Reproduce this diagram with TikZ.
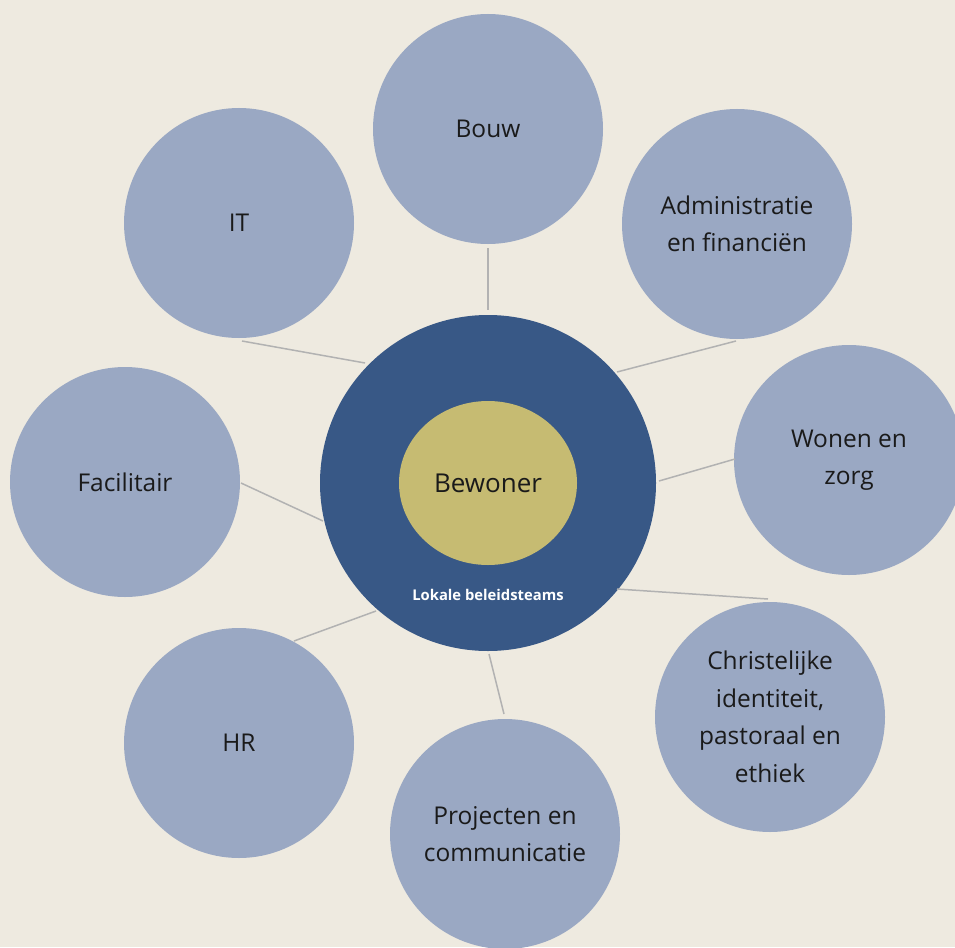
\documentclass[tikz,border=0pt]{standalone}
\usepackage{fontspec}
\usetikzlibrary{shapes.geometric}
\setmainfont{Open Sans}
\definecolor{bg}{HTML}{EEEAE0}
\definecolor{outer}{HTML}{9AA8C3}
\definecolor{core}{HTML}{385886}
\definecolor{yolk}{HTML}{C6BB72}
\definecolor{txt}{HTML}{1A1A1A}
\definecolor{conn}{HTML}{B2B2B2}
\begin{document}
\begin{tikzpicture}[x=1pt,y=-1pt,
  dept/.style={circle,fill=outer,minimum size=230pt,inner sep=0pt,align=center,text=txt,font=\fontsize{24.5}{37.5}\selectfont},
  link/.style={draw=conn,line width=1.5pt}]
\fill[bg] (0,0) rectangle (955,947);
\useasboundingbox (0,0) rectangle (955,947);
\begin{scope}
\clip (0,0) rectangle (955,947);
\node[circle,fill=core,minimum size=336pt,inner sep=0pt] (core) at (488,483) {};
\node[ellipse,fill=yolk,minimum width=178pt,minimum height=164pt,inner sep=0pt,text=txt,font=\fontsize{26}{30}\selectfont] (bew) at (488,483) {Bewoner};
\node[text=white,font=\bfseries\fontsize{14.8}{17}\selectfont] (lok) at (488,595) {Lokale beleidsteams};
\node[dept] (bouw) at (488,129) {Bouw};
\node[dept] (adm) at (737,224) {Administratie\\en financiën};
\node[dept] (won) at (849,460) {Wonen en\\zorg};
\node[dept] (chr) at (770,717) {Christelijke\\identiteit,\\pastoraal en\\ethiek};
\node[dept] (pro) at (505,834) {Projecten en\\communicatie};
\node[dept] (hr) at (239,743) {HR};
\node[dept] (fac) at (125,482) {Facilitair};
\node[dept] (it) at (239,223) {IT};
\coordinate (c1) at (488,248); \coordinate (c2) at (488,310);
\draw[link] (c1) -- (c2);
\coordinate (a1) at (736,341); \coordinate (a2) at (617,372);
\draw[link] (a1) -- (a2);
\coordinate (w1) at (735,459); \coordinate (w2) at (659,481);
\draw[link] (w1) -- (w2);
\coordinate (h1) at (768,599); \coordinate (h2) at (617,589);
\draw[link] (h1) -- (h2);
\coordinate (p1) at (504,714); \coordinate (p2) at (489,654);
\draw[link] (p1) -- (p2);
\coordinate (r1) at (294,641); \coordinate (r2) at (376,611);
\draw[link] (r1) -- (r2);
\coordinate (f1) at (241,483); \coordinate (f2) at (323,521);
\draw[link] (f1) -- (f2);
\coordinate (i1) at (242,341); \coordinate (i2) at (365,363);
\draw[link] (i1) -- (i2);
\end{scope}
\end{tikzpicture}
\end{document}
